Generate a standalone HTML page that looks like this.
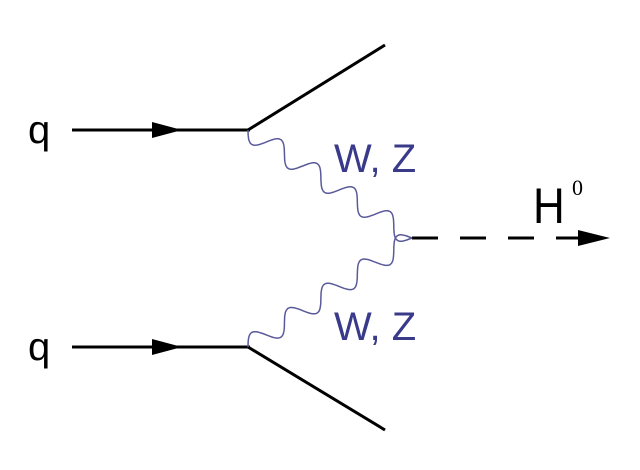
<!DOCTYPE html>
<html><head><style>body{margin:0;background:#fff}svg{display:block}text{font-family:"Liberation Sans",Arial,sans-serif}</style></head><body>
<svg id="s" width="640" height="470" xmlns="http://www.w3.org/2000/svg">
<rect width="640" height="470" fill="#fff"/>
<g stroke="#000" stroke-width="3" fill="none">
<line x1="72" y1="130" x2="250" y2="130"/>
<line x1="248" y1="130" x2="385" y2="45"/>
<line x1="72" y1="347" x2="250" y2="347"/>
<line x1="248" y1="347" x2="385" y2="430"/>
<path d="M412 238 H600" stroke-dasharray="26 22"/>
</g>
<polygon points="152,122 182,130 152,138" fill="#000"/>
<polygon points="152,339 182,347 152,355" fill="#000"/>
<polygon points="578,230 610,238 578,246" fill="#000"/>
<path id="w1" fill="none" stroke="#5a5a9a" stroke-width="1.5"/>
<path id="w2" fill="none" stroke="#5a5a9a" stroke-width="1.5"/>
<text x="28" y="143" font-size="40">q</text>
<text x="28" y="360" font-size="40">q</text>
<text x="334" y="172" font-size="40" fill="#3a3a8a">W, Z</text>
<text x="334" y="340" font-size="40" fill="#3a3a8a">W, Z</text>
<text x="0" y="0" font-size="50" transform="translate(533,223) scale(0.88,1)">H</text>
<text x="572" y="195" font-size="22" style="font-family:'Liberation Serif',serif">0</text>
</svg>
<script>
function wave(id,x1,y1,x2,y2,n,a){var dx=x2-x1,dy=y2-y1,L=Math.hypot(dx,dy),ux=dx/L,uy=dy/L,px=-uy,py=ux,d="";
for(var i=0;i<=240;i++){var t=i/240,s=a*Math.sin(t*n*2*Math.PI);var x=x1+dx*t+px*s,y=y1+dy*t+py*s;d+=(i?"L":"M")+x.toFixed(1)+" "+y.toFixed(1);}
document.getElementById(id).setAttribute("d",d);}
wave("w1",248,130,412,238,4.5,10);
wave("w2",248,347,412,238,4.5,-10);
</script>
</body></html>
